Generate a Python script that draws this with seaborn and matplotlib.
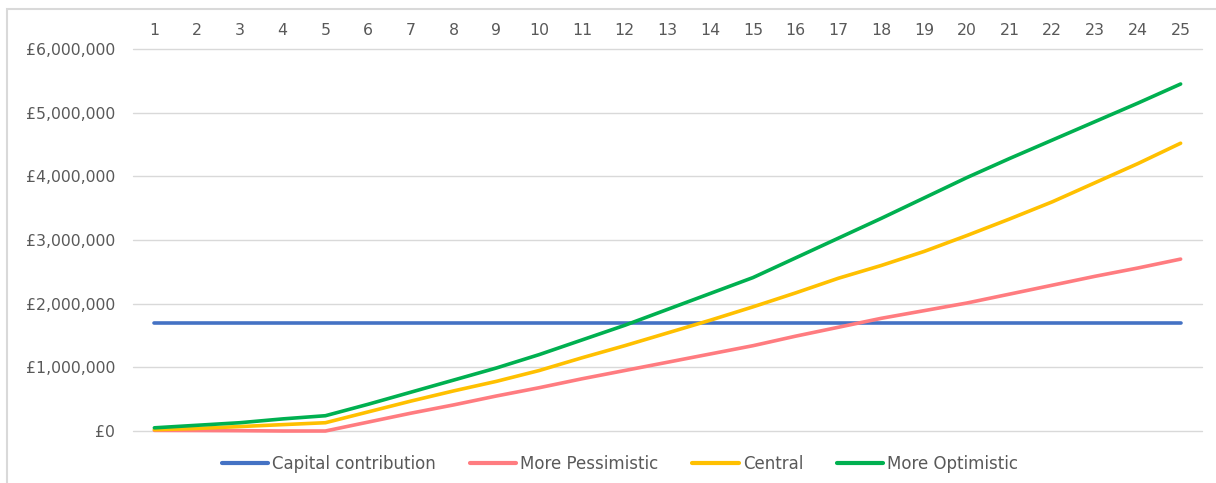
import matplotlib
matplotlib.use("Agg")
import matplotlib.pyplot as plt
import matplotlib.ticker as mticker
from matplotlib.patches import Rectangle
import seaborn as sns
import pandas as pd

years = list(range(1, 26))
series_names = ["Capital contribution", "More Pessimistic", "Central", "More Optimistic"]
capital = [1700000, 1700000, 1700000, 1700000, 1700000, 1700000, 1700000, 1700000,
           1700000, 1700000, 1700000, 1700000, 1700000, 1700000, 1700000, 1700000,
           1700000, 1700000, 1700000, 1700000, 1700000, 1700000, 1700000, 1700000, 1700000]
pessimistic = [10000, 8000, 5000, 0, 0, 140000, 280000, 410000, 550000, 680000,
               820000, 950000, 1080000, 1210000, 1340000, 1490000, 1630000, 1770000,
               1890000, 2010000, 2150000, 2290000, 2430000, 2560000, 2700000]
central = [20000, 40000, 70000, 100000, 130000, 300000, 470000, 630000, 780000, 950000,
           1150000, 1340000, 1540000, 1740000, 1950000, 2170000, 2400000, 2600000,
           2820000, 3070000, 3330000, 3600000, 3900000, 4200000, 4520000]
optimistic = [50000, 90000, 130000, 190000, 240000, 420000, 610000, 800000, 990000, 1200000,
              1430000, 1660000, 1910000, 2160000, 2410000, 2720000, 3030000, 3340000,
              3660000, 3980000, 4280000, 4570000, 4860000, 5150000, 5450000]
y_ticks = [0, 1000000, 2000000, 3000000, 4000000, 5000000, 6000000]
colors = ["#4472C4", "#FF7C80", "#FFC000", "#00B050"]

frames = []
for name, vals in zip(series_names, [capital, pessimistic, central, optimistic]):
    frames.append(pd.DataFrame({"Year": years, "Value": vals, "Series": name}))
df = pd.concat(frames, ignore_index=True)

sns.set_theme(style="white")
plt.rcParams['font.family'] = ['DejaVu Sans']

FS = 11.3
fig = plt.figure(figsize=(12.16, 4.83), dpi=100)
ax = fig.add_axes([133/1216, 1 - 431/483, (1202-133)/1216, (431-49)/483])

sns.lineplot(data=df, x="Year", y="Value", hue="Series", hue_order=series_names,
             palette=colors, linewidth=2.6, ax=ax, legend=True)

ax.set_xlim(0.5, 25.5)
ax.set_ylim(0, 6000000)
ax.set_xticks(years)
ax.set_yticks(y_ticks)
ax.yaxis.set_major_formatter(mticker.FuncFormatter(lambda v, p: "£{:,.0f}".format(v)))
ax.xaxis.tick_top()
ax.tick_params(axis="x", length=0, pad=8, labelsize=FS, labelcolor="#595959")
ax.tick_params(axis="y", length=0, pad=13, labelsize=FS, labelcolor="#595959")
ax.set_xlabel("")
ax.set_ylabel("")
ax.yaxis.grid(True, color="#D9D9D9", linewidth=1.0)
ax.xaxis.grid(False)
for gl in ax.get_ygridlines():
    gl.set_clip_on(False)
for s in ax.spines.values():
    s.set_visible(False)
for line in ax.lines:
    line.set_solid_capstyle("round")
    line.set_clip_on(False)

handles, labels = ax.get_legend_handles_labels()
for h in handles:
    h.set_linewidth(3.0)
leg = ax.legend(handles, labels, loc="center", bbox_to_anchor=(620/1216, 1 - 464/483),
                bbox_transform=fig.transFigure, ncol=4, frameon=False,
                fontsize=12, handlelength=2.8, handletextpad=0.25, columnspacing=2.0)
for t in leg.get_texts():
    t.set_color("#595959")

fig.patches.append(Rectangle((7/1216, -0.2), 1.2, 0.2 + (1 - 9/483),
                             transform=fig.transFigure, fill=False,
                             edgecolor="#D9D9D9", linewidth=1.5, zorder=0))

fig.savefig("out.png", dpi=100)
